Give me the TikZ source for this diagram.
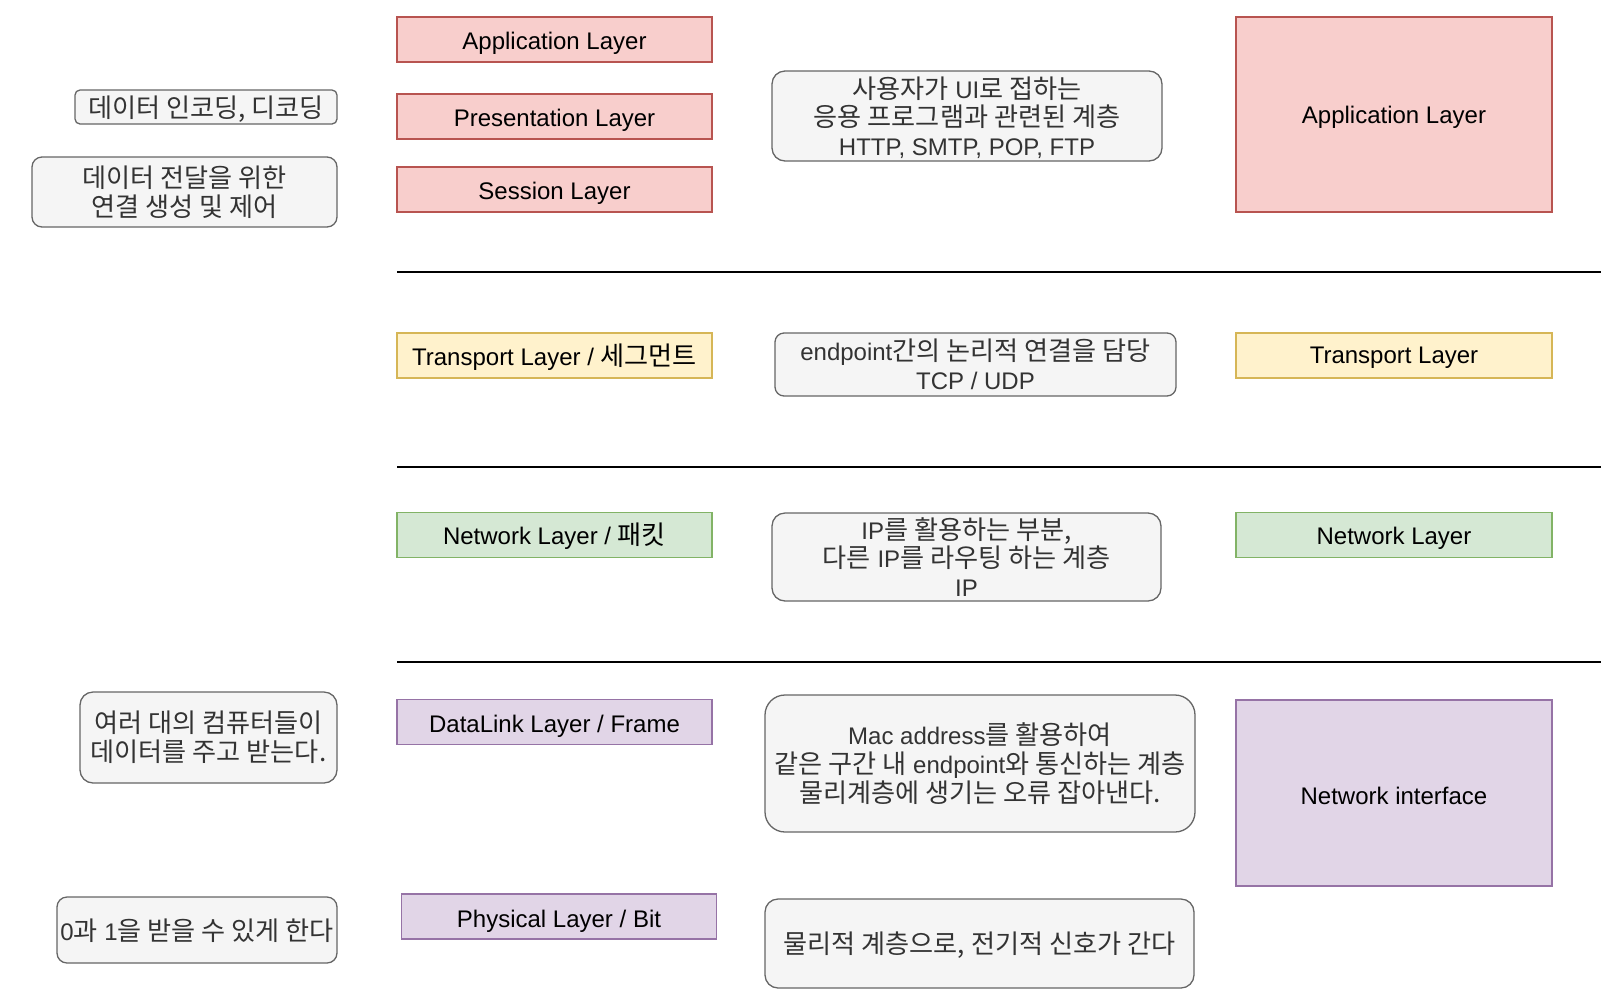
\documentclass[tikz,border=0pt]{standalone}
\usepackage{fontspec}
\setmainfont{Liberation Sans}
\newfontfamily\kr[Scale=1.09]{Noto Sans CJK KR}
\newcommand\tdn[2]{\raisebox{0pt}[\height][\dimexpr\depth-#1\relax]{#2}}
\newcommand\tshift[2]{\raisebox{0pt}[\dimexpr\height+#1\relax][0pt]{#2}}
\definecolor{redF}{HTML}{F8CECC}\definecolor{redS}{HTML}{B85450}
\definecolor{yelF}{HTML}{FFF2CC}\definecolor{yelS}{HTML}{D6B656}
\definecolor{grnF}{HTML}{D5E8D4}\definecolor{grnS}{HTML}{82B366}
\definecolor{purF}{HTML}{E1D5E7}\definecolor{purS}{HTML}{9673A6}
\definecolor{grayF}{HTML}{F5F5F5}\definecolor{grayS}{HTML}{666666}\definecolor{grayT}{HTML}{333333}
\begin{document}
\begin{tikzpicture}[x=1pt,y=-1pt,
  base/.style={draw, inner sep=0pt, line width=1.3pt, align=center, font=\fontsize{24}{28.6}\selectfont},
  layerbox/.style={base, minimum width=315pt, minimum height=45pt},
  redbox/.style={fill=redF, draw=redS},
  yelbox/.style={fill=yelF, draw=yelS},
  grnbox/.style={fill=grnF, draw=grnS},
  purbox/.style={fill=purF, draw=purS},
  notebox/.style={base, fill=grayF, draw=grayS, text=grayT},
  sepline/.style={line width=1.8pt, black}
]
\useasboundingbox (0,0) rectangle (1601,1005);

% top group
\node[layerbox, redbox] (appL) at (554.5,39.5) {\tshift{2.5pt}{Application Layer}};
\node[layerbox, redbox] (presL) at (554.5,116.5) {\tshift{2.5pt}{Presentation Layer}};
\node[layerbox, redbox] (sessL) at (554.5,189.5) {\tshift{2.5pt}{Session Layer}};
\node[notebox, minimum width=262pt, minimum height=34pt, rounded corners=5pt] (enc) at (206,107) {\tdn{4pt}{\kr 데이터 인코딩, 디코딩}};
\node[notebox, minimum width=305pt, minimum height=70pt, rounded corners=10pt] (conn) at (184.5,192) {{\kr 데이터 전달을 위한}\\{\kr 연결 생성 및 제어}};
\node[notebox, minimum width=390pt, minimum height=90pt, rounded corners=13pt] (appDesc) at (967,116) {{\kr 사용자가} UI{\kr 로 접하는}\\{\kr 응용 프로그램과 관련된 계층}\\\tdn{3pt}{HTTP, SMTP, POP, FTP}};
\node[base, redbox, minimum width=316pt, minimum height=195pt] (appR) at (1394,114.5) {\tdn{6pt}{Application Layer}};

\coordinate (l1a) at (397,272); \coordinate (l1b) at (1601,272);
\draw[sepline] (l1a) -- (l1b);

% transport
\node[layerbox, yelbox] (transL) at (554.5,355.5) {\tdn{3pt}{Transport Layer / {\kr 세그먼트}}};
\node[notebox, minimum width=401pt, minimum height=63pt, rounded corners=9pt] (transDesc) at (975.5,364.5) {endpoint{\kr 간의 논리적 연결을 담당}\\TCP / UDP};
\node[layerbox, yelbox, minimum width=316pt] (transR) at (1394,355.5) {\tdn{5pt}{Transport Layer}};

\coordinate (l2a) at (397,467); \coordinate (l2b) at (1601,467);
\draw[sepline] (l2a) -- (l2b);

% network
\node[layerbox, grnbox] (netL) at (554.5,535) {\tdn{3pt}{Network Layer / {\kr 패킷}}};
\node[notebox, minimum width=389pt, minimum height=88pt, rounded corners=13pt] (netDesc) at (966.5,557) {IP{\kr 를 활용하는 부분,}\\{\kr 다른} IP{\kr 를 라우팅 하는 계층}\\IP};
\node[layerbox, grnbox, minimum width=316pt] (netR) at (1394,535) {\tshift{2pt}{Network Layer}};

\coordinate (l3a) at (397,662); \coordinate (l3b) at (1601,662);
\draw[sepline] (l3a) -- (l3b);

% link / physical
\node[notebox, minimum width=257pt, minimum height=91pt, rounded corners=13pt] (multi) at (208.5,737.5) {{\kr 여러 대의 컴퓨터들이}\\{\kr 데이터를 주고 받는다.}};
\node[layerbox, purbox] (dlL) at (554.5,722) {\tshift{3pt}{DataLink Layer / Frame}};
\node[notebox, minimum width=430pt, minimum height=137pt, rounded corners=20pt] (macDesc) at (980,763.5) {Mac address{\kr 를 활용하여}\\{\kr 같은 구간 내} endpoint{\kr 와 통신하는 계층}\\{\kr 물리계층에 생기는 오류 잡아낸다.}};
\node[base, purbox, minimum width=316pt, minimum height=186pt] (nic) at (1394,793) {\tshift{6pt}{Network interface}};
\node[notebox, minimum width=280pt, minimum height=66pt, rounded corners=10pt] (bits) at (197,930) {\tdn{3pt}{0{\kr 과} 1{\kr 을 받을 수 있게 한다}}};
\node[layerbox, purbox] (physL) at (559,916.5) {\tshift{5pt}{Physical Layer / Bit}};
\node[notebox, minimum width=429pt, minimum height=89pt, rounded corners=13pt] (physDesc) at (979.5,943.5) {\tdn{4pt}{\kr 물리적 계층으로, 전기적 신호가 간다}};
\end{tikzpicture}
\end{document}
